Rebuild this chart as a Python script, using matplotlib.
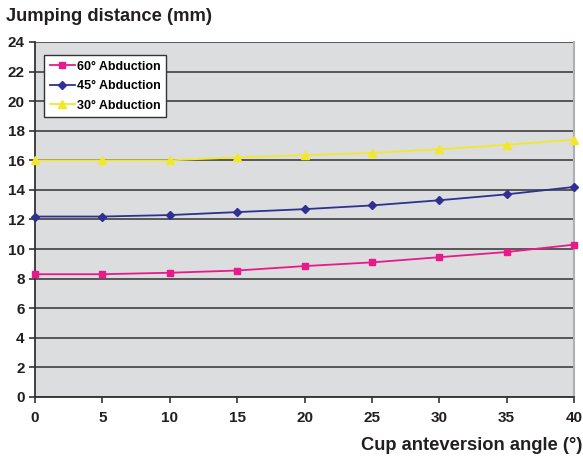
import numpy as np
import matplotlib.pyplot as plt

plt.rcParams['font.family'] = ['Liberation Sans', 'DejaVu Sans']

angle = [0, 5, 10, 15, 20, 25, 30, 35, 40]
abd60 = [8.3, 8.3, 8.4, 8.55, 8.85, 9.1, 9.45, 9.8, 10.3]
abd45 = [12.2, 12.2, 12.3, 12.5, 12.7, 12.95, 13.3, 13.7, 14.2]
abd30 = [16.0, 16.0, 16.0, 16.2, 16.35, 16.5, 16.75, 17.05, 17.4]

fig = plt.figure(figsize=(5.83, 4.58), dpi=100)
ax = fig.add_axes([0.060, 0.1332, 0.9246, 0.7751])
ax.set_facecolor('#dcdddf')

ax.plot(angle, abd60, color='#e8198b', marker='s', ms=5, lw=1.3, label='60° Abduction', clip_on=False, zorder=3)
ax.plot(angle, abd45, color='#2e3192', marker='D', ms=4.5, lw=1.3, label='45° Abduction', clip_on=False, zorder=3)
ax.plot(angle, abd30, color='#f2e82a', marker='^', ms=6, lw=1.3, label='30° Abduction', clip_on=False, zorder=3)

ax.set_xlim(0, 40)
ax.set_ylim(0, 24)
ax.set_xticks(angle)
ax.set_yticks(range(0, 25, 2))
ax.grid(axis='y', color='#404040', lw=1.2)
ax.set_axisbelow(True)
ax.spines['top'].set_visible(False)
ax.spines['right'].set_color('#b0b0b0')
ax.spines['right'].set_linewidth(1.5)
for s in ['left', 'bottom']:
    ax.spines[s].set_color('#333333')
    ax.spines[s].set_linewidth(1.3)
ax.tick_params(axis='both', labelsize=11, colors='#333333', length=4, width=1.2)
ax.tick_params(axis='x', pad=6)
for lbl in ax.get_xticklabels() + ax.get_yticklabels():
    lbl.set_fontweight('bold')
    lbl.set_color('#231f20')

fig.text(0.010, 0.965, 'Jumping distance (mm)', fontsize=13.2, fontweight='bold', color='#231f20', va='center')
fig.text(0.999, 0.028, 'Cup anteversion angle (°)', fontsize=13.2, fontweight='bold', color='#231f20', ha='right', va='center')

leg = ax.legend(loc='upper left', bbox_to_anchor=(0.0167, 0.963), borderaxespad=0,
                prop={'weight': 'bold', 'size': 9},
                frameon=True, fancybox=False, edgecolor='#333333', framealpha=1, handlelength=2.0,
                handletextpad=0.2, borderpad=0.45, labelspacing=0.6)
leg.get_frame().set_linewidth(1.0)

fig.savefig('out.png', dpi=100)
